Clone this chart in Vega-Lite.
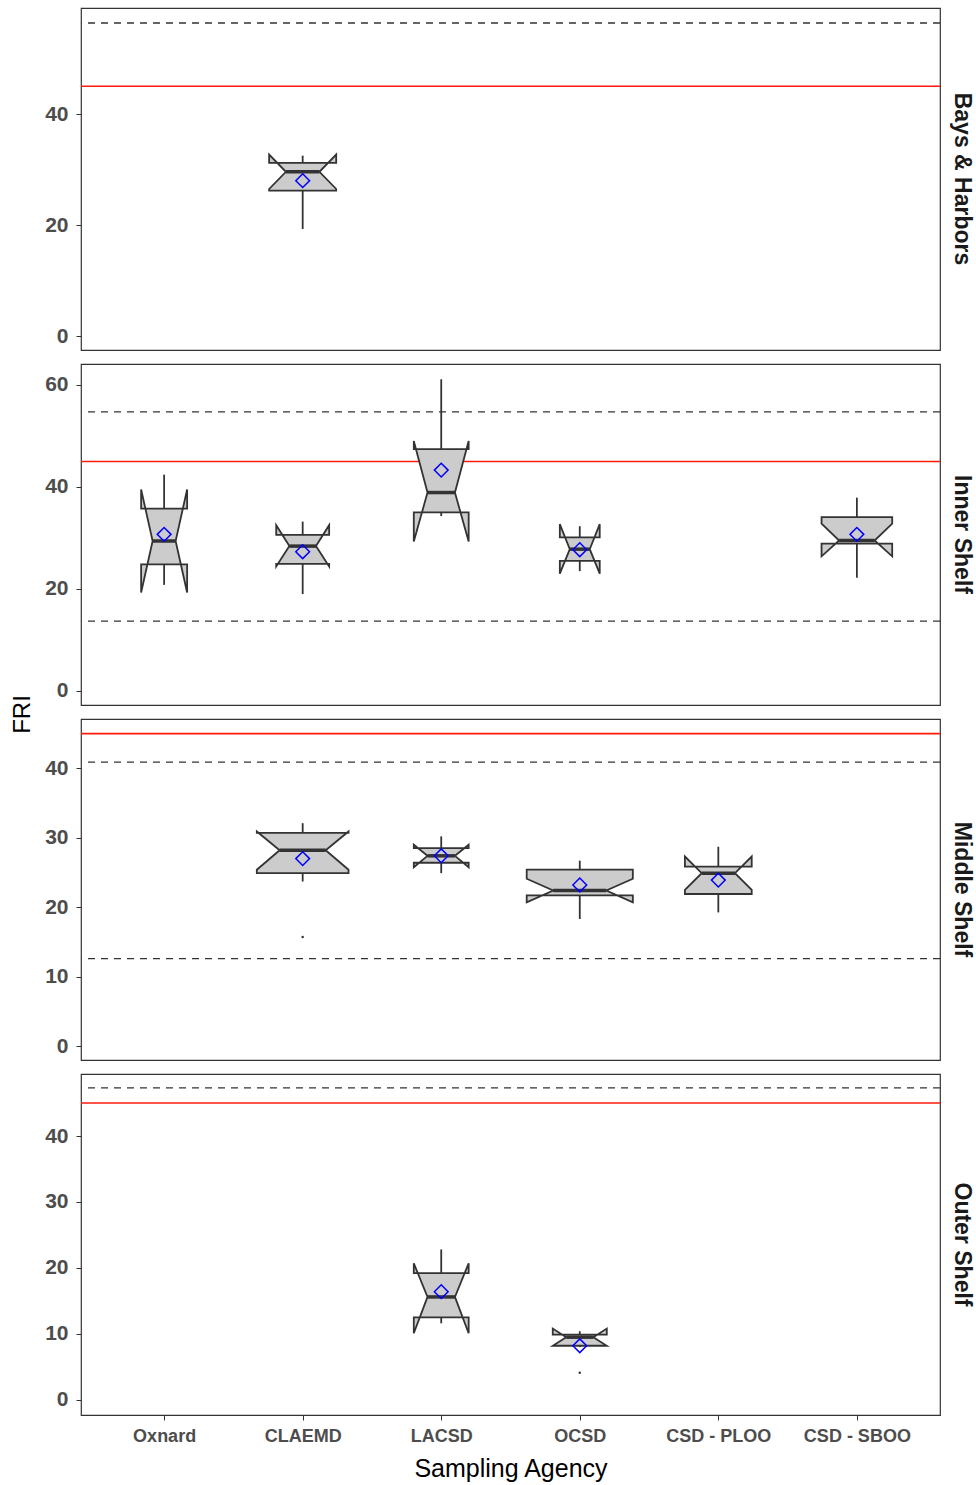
{
  "$schema": "https://vega.github.io/schema/vega-lite/v6.json",
  "padding": {"left": 10, "top": 7, "right": 2, "bottom": 2},
  "spacing": 14,
  "bounds": "flush",
  "resolve": {"scale": {"y": "independent"}},
  "config": {
    "font": "Liberation Sans",
    "view": {"stroke": "#333333", "strokeWidth": 1.2},
    "axis": {"grid": false, "domain": false, "tickColor": "#333333", "tickSize": 5, "labelColor": "#4d4d4d", "labelFontWeight": "bold"},
    "axisY": {"labelFontSize": 21, "labelPadding": 8},
    "axisX": {"labelFontSize": 18, "labelPadding": 7, "titleFontSize": 25, "titleFontWeight": "normal", "titleColor": "#000000", "titlePadding": 11},
    "title": {"orient": "right", "anchor": "middle", "fontSize": 23, "fontWeight": "bold", "color": "#1a1a1a", "offset": 9}
  },
  "datasets": {
    "refs": [
      {"shelf": "Bays & Harbors", "kind": "threshold", "fri": 45},
      {"shelf": "Bays & Harbors", "kind": "bound", "fri": 56.4},
      {"shelf": "Inner Shelf", "kind": "threshold", "fri": 45},
      {"shelf": "Inner Shelf", "kind": "bound", "fri": 54.7},
      {"shelf": "Inner Shelf", "kind": "bound", "fri": 13.7},
      {"shelf": "Middle Shelf", "kind": "threshold", "fri": 45},
      {"shelf": "Middle Shelf", "kind": "bound", "fri": 40.9},
      {"shelf": "Middle Shelf", "kind": "bound", "fri": 12.6},
      {"shelf": "Outer Shelf", "kind": "threshold", "fri": 45},
      {"shelf": "Outer Shelf", "kind": "bound", "fri": 47.3}
    ],
    "boxes": [
      {"shelf": "Bays & Harbors", "agency": "CLAEMD", "lower": 19.3, "q1": 26.2, "q3": 31.2, "upper": 32.5, "mean": 28.0},
      {"shelf": "Inner Shelf", "agency": "Oxnard", "lower": 20.8, "q1": 24.8, "q3": 35.75, "upper": 42.4, "mean": 30.7},
      {"shelf": "Inner Shelf", "agency": "CLAEMD", "lower": 19.0, "q1": 24.9, "q3": 30.6, "upper": 33.2, "mean": 27.3},
      {"shelf": "Inner Shelf", "agency": "LACSD", "lower": 34.3, "q1": 35.0, "q3": 47.4, "upper": 61.1, "mean": 43.3},
      {"shelf": "Inner Shelf", "agency": "OCSD", "lower": 23.5, "q1": 25.5, "q3": 30.1, "upper": 32.3, "mean": 27.7},
      {"shelf": "Inner Shelf", "agency": "CSD - SBOO", "lower": 22.2, "q1": 28.9, "q3": 34.1, "upper": 37.9, "mean": 30.7},
      {"shelf": "Middle Shelf", "agency": "CLAEMD", "lower": 23.7, "q1": 24.9, "q3": 30.7, "upper": 32.1, "mean": 27.0},
      {"shelf": "Middle Shelf", "agency": "LACSD", "lower": 24.9, "q1": 26.4, "q3": 28.5, "upper": 30.2, "mean": 27.4},
      {"shelf": "Middle Shelf", "agency": "OCSD", "lower": 18.3, "q1": 21.7, "q3": 25.4, "upper": 26.7, "mean": 23.2},
      {"shelf": "Middle Shelf", "agency": "CSD - PLOO", "lower": 19.25, "q1": 21.9, "q3": 25.85, "upper": 28.7, "mean": 23.9},
      {"shelf": "Outer Shelf", "agency": "LACSD", "lower": 11.6, "q1": 12.5, "q3": 19.2, "upper": 22.8, "mean": 16.4},
      {"shelf": "Outer Shelf", "agency": "OCSD", "lower": 8.0, "q1": 8.2, "q3": 9.9, "upper": 10.4, "mean": 8.2}
    ],
    "outliers": [
      {"shelf": "Middle Shelf", "agency": "CLAEMD", "fri": 15.7},
      {"shelf": "Outer Shelf", "agency": "OCSD", "fri": 4.1}
    ],
    "verts": [
      {"shelf": "Bays & Harbors", "agency": "CLAEMD", "vertex": 1, "dx": -0.242, "fri": 31.2},
      {"shelf": "Bays & Harbors", "agency": "CLAEMD", "vertex": 2, "dx": -0.242, "fri": 32.7},
      {"shelf": "Bays & Harbors", "agency": "CLAEMD", "vertex": 3, "dx": -0.121, "fri": 29.6},
      {"shelf": "Bays & Harbors", "agency": "CLAEMD", "vertex": 4, "dx": -0.242, "fri": 26.5},
      {"shelf": "Bays & Harbors", "agency": "CLAEMD", "vertex": 5, "dx": -0.242, "fri": 26.2},
      {"shelf": "Bays & Harbors", "agency": "CLAEMD", "vertex": 6, "dx": 0.242, "fri": 26.2},
      {"shelf": "Bays & Harbors", "agency": "CLAEMD", "vertex": 7, "dx": 0.242, "fri": 26.5},
      {"shelf": "Bays & Harbors", "agency": "CLAEMD", "vertex": 8, "dx": 0.121, "fri": 29.6},
      {"shelf": "Bays & Harbors", "agency": "CLAEMD", "vertex": 9, "dx": 0.242, "fri": 32.7},
      {"shelf": "Bays & Harbors", "agency": "CLAEMD", "vertex": 10, "dx": 0.242, "fri": 31.2},

      {"shelf": "Inner Shelf", "agency": "Oxnard", "vertex": 1, "dx": -0.166, "fri": 35.75},
      {"shelf": "Inner Shelf", "agency": "Oxnard", "vertex": 2, "dx": -0.166, "fri": 39.5},
      {"shelf": "Inner Shelf", "agency": "Oxnard", "vertex": 3, "dx": -0.083, "fri": 29.4},
      {"shelf": "Inner Shelf", "agency": "Oxnard", "vertex": 4, "dx": -0.166, "fri": 19.3},
      {"shelf": "Inner Shelf", "agency": "Oxnard", "vertex": 5, "dx": -0.166, "fri": 24.8},
      {"shelf": "Inner Shelf", "agency": "Oxnard", "vertex": 6, "dx": 0.166, "fri": 24.8},
      {"shelf": "Inner Shelf", "agency": "Oxnard", "vertex": 7, "dx": 0.166, "fri": 19.3},
      {"shelf": "Inner Shelf", "agency": "Oxnard", "vertex": 8, "dx": 0.083, "fri": 29.4},
      {"shelf": "Inner Shelf", "agency": "Oxnard", "vertex": 9, "dx": 0.166, "fri": 39.5},
      {"shelf": "Inner Shelf", "agency": "Oxnard", "vertex": 10, "dx": 0.166, "fri": 35.75},

      {"shelf": "Inner Shelf", "agency": "CLAEMD", "vertex": 1, "dx": -0.191, "fri": 30.6},
      {"shelf": "Inner Shelf", "agency": "CLAEMD", "vertex": 2, "dx": -0.191, "fri": 32.5},
      {"shelf": "Inner Shelf", "agency": "CLAEMD", "vertex": 3, "dx": -0.096, "fri": 28.4},
      {"shelf": "Inner Shelf", "agency": "CLAEMD", "vertex": 4, "dx": -0.191, "fri": 24.4},
      {"shelf": "Inner Shelf", "agency": "CLAEMD", "vertex": 5, "dx": -0.191, "fri": 24.9},
      {"shelf": "Inner Shelf", "agency": "CLAEMD", "vertex": 6, "dx": 0.191, "fri": 24.9},
      {"shelf": "Inner Shelf", "agency": "CLAEMD", "vertex": 7, "dx": 0.191, "fri": 24.4},
      {"shelf": "Inner Shelf", "agency": "CLAEMD", "vertex": 8, "dx": 0.096, "fri": 28.4},
      {"shelf": "Inner Shelf", "agency": "CLAEMD", "vertex": 9, "dx": 0.191, "fri": 32.5},
      {"shelf": "Inner Shelf", "agency": "CLAEMD", "vertex": 10, "dx": 0.191, "fri": 30.6},

      {"shelf": "Inner Shelf", "agency": "LACSD", "vertex": 1, "dx": -0.198, "fri": 47.4},
      {"shelf": "Inner Shelf", "agency": "LACSD", "vertex": 2, "dx": -0.198, "fri": 49.0},
      {"shelf": "Inner Shelf", "agency": "LACSD", "vertex": 3, "dx": -0.099, "fri": 38.9},
      {"shelf": "Inner Shelf", "agency": "LACSD", "vertex": 4, "dx": -0.198, "fri": 29.3},
      {"shelf": "Inner Shelf", "agency": "LACSD", "vertex": 5, "dx": -0.198, "fri": 35.0},
      {"shelf": "Inner Shelf", "agency": "LACSD", "vertex": 6, "dx": 0.198, "fri": 35.0},
      {"shelf": "Inner Shelf", "agency": "LACSD", "vertex": 7, "dx": 0.198, "fri": 29.3},
      {"shelf": "Inner Shelf", "agency": "LACSD", "vertex": 8, "dx": 0.099, "fri": 38.9},
      {"shelf": "Inner Shelf", "agency": "LACSD", "vertex": 9, "dx": 0.198, "fri": 49.0},
      {"shelf": "Inner Shelf", "agency": "LACSD", "vertex": 10, "dx": 0.198, "fri": 47.4},

      {"shelf": "Inner Shelf", "agency": "OCSD", "vertex": 1, "dx": -0.144, "fri": 30.1},
      {"shelf": "Inner Shelf", "agency": "OCSD", "vertex": 2, "dx": -0.144, "fri": 32.7},
      {"shelf": "Inner Shelf", "agency": "OCSD", "vertex": 3, "dx": -0.072, "fri": 27.8},
      {"shelf": "Inner Shelf", "agency": "OCSD", "vertex": 4, "dx": -0.144, "fri": 23.0},
      {"shelf": "Inner Shelf", "agency": "OCSD", "vertex": 5, "dx": -0.144, "fri": 25.5},
      {"shelf": "Inner Shelf", "agency": "OCSD", "vertex": 6, "dx": 0.144, "fri": 25.5},
      {"shelf": "Inner Shelf", "agency": "OCSD", "vertex": 7, "dx": 0.144, "fri": 23.0},
      {"shelf": "Inner Shelf", "agency": "OCSD", "vertex": 8, "dx": 0.072, "fri": 27.8},
      {"shelf": "Inner Shelf", "agency": "OCSD", "vertex": 9, "dx": 0.144, "fri": 32.7},
      {"shelf": "Inner Shelf", "agency": "OCSD", "vertex": 10, "dx": 0.144, "fri": 30.1},

      {"shelf": "Inner Shelf", "agency": "CSD - SBOO", "vertex": 1, "dx": -0.255, "fri": 34.1},
      {"shelf": "Inner Shelf", "agency": "CSD - SBOO", "vertex": 2, "dx": -0.255, "fri": 32.8},
      {"shelf": "Inner Shelf", "agency": "CSD - SBOO", "vertex": 3, "dx": -0.128, "fri": 29.5},
      {"shelf": "Inner Shelf", "agency": "CSD - SBOO", "vertex": 4, "dx": -0.255, "fri": 26.4},
      {"shelf": "Inner Shelf", "agency": "CSD - SBOO", "vertex": 5, "dx": -0.255, "fri": 28.9},
      {"shelf": "Inner Shelf", "agency": "CSD - SBOO", "vertex": 6, "dx": 0.255, "fri": 28.9},
      {"shelf": "Inner Shelf", "agency": "CSD - SBOO", "vertex": 7, "dx": 0.255, "fri": 26.4},
      {"shelf": "Inner Shelf", "agency": "CSD - SBOO", "vertex": 8, "dx": 0.128, "fri": 29.5},
      {"shelf": "Inner Shelf", "agency": "CSD - SBOO", "vertex": 9, "dx": 0.255, "fri": 32.8},
      {"shelf": "Inner Shelf", "agency": "CSD - SBOO", "vertex": 10, "dx": 0.255, "fri": 34.1},

      {"shelf": "Middle Shelf", "agency": "CLAEMD", "vertex": 1, "dx": -0.331, "fri": 30.7},
      {"shelf": "Middle Shelf", "agency": "CLAEMD", "vertex": 2, "dx": -0.331, "fri": 30.9},
      {"shelf": "Middle Shelf", "agency": "CLAEMD", "vertex": 3, "dx": -0.166, "fri": 28.2},
      {"shelf": "Middle Shelf", "agency": "CLAEMD", "vertex": 4, "dx": -0.331, "fri": 25.4},
      {"shelf": "Middle Shelf", "agency": "CLAEMD", "vertex": 5, "dx": -0.331, "fri": 24.9},
      {"shelf": "Middle Shelf", "agency": "CLAEMD", "vertex": 6, "dx": 0.331, "fri": 24.9},
      {"shelf": "Middle Shelf", "agency": "CLAEMD", "vertex": 7, "dx": 0.331, "fri": 25.4},
      {"shelf": "Middle Shelf", "agency": "CLAEMD", "vertex": 8, "dx": 0.166, "fri": 28.2},
      {"shelf": "Middle Shelf", "agency": "CLAEMD", "vertex": 9, "dx": 0.331, "fri": 30.9},
      {"shelf": "Middle Shelf", "agency": "CLAEMD", "vertex": 10, "dx": 0.331, "fri": 30.7},

      {"shelf": "Middle Shelf", "agency": "LACSD", "vertex": 1, "dx": -0.198, "fri": 28.5},
      {"shelf": "Middle Shelf", "agency": "LACSD", "vertex": 2, "dx": -0.198, "fri": 29.0},
      {"shelf": "Middle Shelf", "agency": "LACSD", "vertex": 3, "dx": -0.099, "fri": 27.4},
      {"shelf": "Middle Shelf", "agency": "LACSD", "vertex": 4, "dx": -0.198, "fri": 25.75},
      {"shelf": "Middle Shelf", "agency": "LACSD", "vertex": 5, "dx": -0.198, "fri": 26.4},
      {"shelf": "Middle Shelf", "agency": "LACSD", "vertex": 6, "dx": 0.198, "fri": 26.4},
      {"shelf": "Middle Shelf", "agency": "LACSD", "vertex": 7, "dx": 0.198, "fri": 25.75},
      {"shelf": "Middle Shelf", "agency": "LACSD", "vertex": 8, "dx": 0.099, "fri": 27.4},
      {"shelf": "Middle Shelf", "agency": "LACSD", "vertex": 9, "dx": 0.198, "fri": 29.0},
      {"shelf": "Middle Shelf", "agency": "LACSD", "vertex": 10, "dx": 0.198, "fri": 28.5},

      {"shelf": "Middle Shelf", "agency": "OCSD", "vertex": 1, "dx": -0.383, "fri": 25.4},
      {"shelf": "Middle Shelf", "agency": "OCSD", "vertex": 2, "dx": -0.383, "fri": 24.1},
      {"shelf": "Middle Shelf", "agency": "OCSD", "vertex": 3, "dx": -0.192, "fri": 22.4},
      {"shelf": "Middle Shelf", "agency": "OCSD", "vertex": 4, "dx": -0.383, "fri": 20.7},
      {"shelf": "Middle Shelf", "agency": "OCSD", "vertex": 5, "dx": -0.383, "fri": 21.7},
      {"shelf": "Middle Shelf", "agency": "OCSD", "vertex": 6, "dx": 0.383, "fri": 21.7},
      {"shelf": "Middle Shelf", "agency": "OCSD", "vertex": 7, "dx": 0.383, "fri": 20.7},
      {"shelf": "Middle Shelf", "agency": "OCSD", "vertex": 8, "dx": 0.192, "fri": 22.4},
      {"shelf": "Middle Shelf", "agency": "OCSD", "vertex": 9, "dx": 0.383, "fri": 24.1},
      {"shelf": "Middle Shelf", "agency": "OCSD", "vertex": 10, "dx": 0.383, "fri": 25.4},

      {"shelf": "Middle Shelf", "agency": "CSD - PLOO", "vertex": 1, "dx": -0.241, "fri": 25.85},
      {"shelf": "Middle Shelf", "agency": "CSD - PLOO", "vertex": 2, "dx": -0.241, "fri": 27.3},
      {"shelf": "Middle Shelf", "agency": "CSD - PLOO", "vertex": 3, "dx": -0.12, "fri": 24.9},
      {"shelf": "Middle Shelf", "agency": "CSD - PLOO", "vertex": 4, "dx": -0.241, "fri": 22.5},
      {"shelf": "Middle Shelf", "agency": "CSD - PLOO", "vertex": 5, "dx": -0.241, "fri": 21.9},
      {"shelf": "Middle Shelf", "agency": "CSD - PLOO", "vertex": 6, "dx": 0.241, "fri": 21.9},
      {"shelf": "Middle Shelf", "agency": "CSD - PLOO", "vertex": 7, "dx": 0.241, "fri": 22.5},
      {"shelf": "Middle Shelf", "agency": "CSD - PLOO", "vertex": 8, "dx": 0.12, "fri": 24.9},
      {"shelf": "Middle Shelf", "agency": "CSD - PLOO", "vertex": 9, "dx": 0.241, "fri": 27.3},
      {"shelf": "Middle Shelf", "agency": "CSD - PLOO", "vertex": 10, "dx": 0.241, "fri": 25.85},

      {"shelf": "Outer Shelf", "agency": "LACSD", "vertex": 1, "dx": -0.198, "fri": 19.2},
      {"shelf": "Outer Shelf", "agency": "LACSD", "vertex": 2, "dx": -0.198, "fri": 20.7},
      {"shelf": "Outer Shelf", "agency": "LACSD", "vertex": 3, "dx": -0.099, "fri": 15.6},
      {"shelf": "Outer Shelf", "agency": "LACSD", "vertex": 4, "dx": -0.198, "fri": 10.1},
      {"shelf": "Outer Shelf", "agency": "LACSD", "vertex": 5, "dx": -0.198, "fri": 12.5},
      {"shelf": "Outer Shelf", "agency": "LACSD", "vertex": 6, "dx": 0.198, "fri": 12.5},
      {"shelf": "Outer Shelf", "agency": "LACSD", "vertex": 7, "dx": 0.198, "fri": 10.1},
      {"shelf": "Outer Shelf", "agency": "LACSD", "vertex": 8, "dx": 0.099, "fri": 15.6},
      {"shelf": "Outer Shelf", "agency": "LACSD", "vertex": 9, "dx": 0.198, "fri": 20.7},
      {"shelf": "Outer Shelf", "agency": "LACSD", "vertex": 10, "dx": 0.198, "fri": 19.2},

      {"shelf": "Outer Shelf", "agency": "OCSD", "vertex": 1, "dx": -0.195, "fri": 9.9},
      {"shelf": "Outer Shelf", "agency": "OCSD", "vertex": 2, "dx": -0.195, "fri": 10.8},
      {"shelf": "Outer Shelf", "agency": "OCSD", "vertex": 3, "dx": -0.098, "fri": 9.5},
      {"shelf": "Outer Shelf", "agency": "OCSD", "vertex": 4, "dx": -0.195, "fri": 8.2},
      {"shelf": "Outer Shelf", "agency": "OCSD", "vertex": 5, "dx": -0.195, "fri": 8.2},
      {"shelf": "Outer Shelf", "agency": "OCSD", "vertex": 6, "dx": 0.195, "fri": 8.2},
      {"shelf": "Outer Shelf", "agency": "OCSD", "vertex": 7, "dx": 0.195, "fri": 8.2},
      {"shelf": "Outer Shelf", "agency": "OCSD", "vertex": 8, "dx": 0.098, "fri": 9.5},
      {"shelf": "Outer Shelf", "agency": "OCSD", "vertex": 9, "dx": 0.195, "fri": 10.8},
      {"shelf": "Outer Shelf", "agency": "OCSD", "vertex": 10, "dx": 0.195, "fri": 9.9}
    ]
  },
  "vconcat": [
    {
      "width": 859, "height": 342,
      "title": {"text": "Bays & Harbors"},
      "layer": [
        {"data": {"name": "refs"}, "transform": [{"filter": "datum.shelf === 'Bays & Harbors' && datum.kind === 'bound'"}],
         "mark": {"type": "rule", "stroke": "#333333", "strokeWidth": 1.3, "strokeDash": [7, 6]},
         "encoding": {"y": {"field": "fri", "type": "quantitative", "scale": {"domain": [-2.5, 59.1], "nice": false, "zero": false}, "axis": {"values": [0, 20, 40], "title": null}}}},
        {"data": {"name": "refs"}, "transform": [{"filter": "datum.shelf === 'Bays & Harbors' && datum.kind === 'threshold'"}],
         "mark": {"type": "rule", "stroke": "#ff1a0a", "strokeWidth": 1.6},
         "encoding": {"y": {"field": "fri", "type": "quantitative"}}},
        {"data": {"name": "boxes"}, "transform": [{"filter": "datum.shelf === 'Bays & Harbors'"}],
         "mark": {"type": "rule", "stroke": "#333333", "strokeWidth": 1.8},
         "encoding": {"x": {"field": "agency", "type": "nominal", "scale": {"type": "point", "domain": ["Oxnard", "CLAEMD", "LACSD", "OCSD", "CSD - PLOO", "CSD - SBOO"], "padding": 0.6}, "axis": null},
                      "y": {"field": "lower", "type": "quantitative"}, "y2": {"field": "q1"}}},
        {"data": {"name": "boxes"}, "transform": [{"filter": "datum.shelf === 'Bays & Harbors'"}],
         "mark": {"type": "rule", "stroke": "#333333", "strokeWidth": 1.8},
         "encoding": {"x": {"field": "agency", "type": "nominal", "axis": null},
                      "y": {"field": "q3", "type": "quantitative"}, "y2": {"field": "upper"}}},
        {"data": {"name": "verts"}, "transform": [{"filter": "datum.shelf === 'Bays & Harbors'"}],
         "mark": {"type": "line", "interpolate": "linear-closed", "fill": "#cccccc", "stroke": "#333333", "strokeWidth": 1.8},
         "encoding": {"x": {"field": "agency", "type": "nominal", "axis": null},
                      "xOffset": {"field": "dx", "type": "quantitative", "scale": {"domain": [-0.5, 0.5], "range": [-69.27, 69.27]}},
                      "y": {"field": "fri", "type": "quantitative"},
                      "detail": {"field": "agency"},
                      "order": {"field": "vertex", "type": "quantitative"}}},
        {"data": {"name": "verts"}, "transform": [{"filter": "datum.shelf === 'Bays & Harbors' && (datum.vertex === 3 || datum.vertex === 8)"}],
         "mark": {"type": "line", "stroke": "#333333", "strokeWidth": 3.5},
         "encoding": {"x": {"field": "agency", "type": "nominal", "axis": null},
                      "xOffset": {"field": "dx", "type": "quantitative", "scale": {"domain": [-0.5, 0.5], "range": [-69.27, 69.27]}},
                      "y": {"field": "fri", "type": "quantitative"},
                      "detail": {"field": "agency"},
                      "order": {"field": "vertex", "type": "quantitative"}}},
        {"data": {"name": "boxes"}, "transform": [{"filter": "datum.shelf === 'Bays & Harbors'"}],
         "mark": {"type": "point", "shape": "diamond", "filled": false, "color": "#0000ff", "size": 190, "strokeWidth": 1.5, "opacity": 1},
         "encoding": {"x": {"field": "agency", "type": "nominal", "axis": null}, "y": {"field": "mean", "type": "quantitative"}}}
      ]
    },
    {
      "width": 859, "height": 341,
      "title": {"text": "Inner Shelf"},
      "layer": [
        {"data": {"name": "refs"}, "transform": [{"filter": "datum.shelf === 'Inner Shelf' && datum.kind === 'bound'"}],
         "mark": {"type": "rule", "stroke": "#333333", "strokeWidth": 1.3, "strokeDash": [7, 6]},
         "encoding": {"y": {"field": "fri", "type": "quantitative", "scale": {"domain": [-2.75, 64.1], "nice": false, "zero": false}, "axis": {"values": [0, 20, 40, 60], "title": "FRI", "titleY": 350, "titleFontSize": 24, "titleFontWeight": "normal", "titleColor": "#000000", "titlePadding": 10}}}},
        {"data": {"name": "refs"}, "transform": [{"filter": "datum.shelf === 'Inner Shelf' && datum.kind === 'threshold'"}],
         "mark": {"type": "rule", "stroke": "#ff1a0a", "strokeWidth": 1.6},
         "encoding": {"y": {"field": "fri", "type": "quantitative"}}},
        {"data": {"name": "boxes"}, "transform": [{"filter": "datum.shelf === 'Inner Shelf'"}],
         "mark": {"type": "rule", "stroke": "#333333", "strokeWidth": 1.8},
         "encoding": {"x": {"field": "agency", "type": "nominal", "scale": {"type": "point", "domain": ["Oxnard", "CLAEMD", "LACSD", "OCSD", "CSD - PLOO", "CSD - SBOO"], "padding": 0.6}, "axis": null},
                      "y": {"field": "lower", "type": "quantitative"}, "y2": {"field": "q1"}}},
        {"data": {"name": "boxes"}, "transform": [{"filter": "datum.shelf === 'Inner Shelf'"}],
         "mark": {"type": "rule", "stroke": "#333333", "strokeWidth": 1.8},
         "encoding": {"x": {"field": "agency", "type": "nominal", "axis": null},
                      "y": {"field": "q3", "type": "quantitative"}, "y2": {"field": "upper"}}},
        {"data": {"name": "verts"}, "transform": [{"filter": "datum.shelf === 'Inner Shelf'"}],
         "mark": {"type": "line", "interpolate": "linear-closed", "fill": "#cccccc", "stroke": "#333333", "strokeWidth": 1.8},
         "encoding": {"x": {"field": "agency", "type": "nominal", "axis": null},
                      "xOffset": {"field": "dx", "type": "quantitative", "scale": {"domain": [-0.5, 0.5], "range": [-69.27, 69.27]}},
                      "y": {"field": "fri", "type": "quantitative"},
                      "detail": {"field": "agency"},
                      "order": {"field": "vertex", "type": "quantitative"}}},
        {"data": {"name": "verts"}, "transform": [{"filter": "datum.shelf === 'Inner Shelf' && (datum.vertex === 3 || datum.vertex === 8)"}],
         "mark": {"type": "line", "stroke": "#333333", "strokeWidth": 3.5},
         "encoding": {"x": {"field": "agency", "type": "nominal", "axis": null},
                      "xOffset": {"field": "dx", "type": "quantitative", "scale": {"domain": [-0.5, 0.5], "range": [-69.27, 69.27]}},
                      "y": {"field": "fri", "type": "quantitative"},
                      "detail": {"field": "agency"},
                      "order": {"field": "vertex", "type": "quantitative"}}},
        {"data": {"name": "boxes"}, "transform": [{"filter": "datum.shelf === 'Inner Shelf'"}],
         "mark": {"type": "point", "shape": "diamond", "filled": false, "color": "#0000ff", "size": 190, "strokeWidth": 1.5, "opacity": 1},
         "encoding": {"x": {"field": "agency", "type": "nominal", "axis": null}, "y": {"field": "mean", "type": "quantitative"}}}
      ]
    },
    {
      "width": 859, "height": 341,
      "title": {"text": "Middle Shelf"},
      "layer": [
        {"data": {"name": "refs"}, "transform": [{"filter": "datum.shelf === 'Middle Shelf' && datum.kind === 'bound'"}],
         "mark": {"type": "rule", "stroke": "#333333", "strokeWidth": 1.3, "strokeDash": [7, 6]},
         "encoding": {"y": {"field": "fri", "type": "quantitative", "scale": {"domain": [-2.0, 47.1], "nice": false, "zero": false}, "axis": {"values": [0, 10, 20, 30, 40], "title": null}}}},
        {"data": {"name": "refs"}, "transform": [{"filter": "datum.shelf === 'Middle Shelf' && datum.kind === 'threshold'"}],
         "mark": {"type": "rule", "stroke": "#ff1a0a", "strokeWidth": 1.6},
         "encoding": {"y": {"field": "fri", "type": "quantitative"}}},
        {"data": {"name": "boxes"}, "transform": [{"filter": "datum.shelf === 'Middle Shelf'"}],
         "mark": {"type": "rule", "stroke": "#333333", "strokeWidth": 1.8},
         "encoding": {"x": {"field": "agency", "type": "nominal", "scale": {"type": "point", "domain": ["Oxnard", "CLAEMD", "LACSD", "OCSD", "CSD - PLOO", "CSD - SBOO"], "padding": 0.6}, "axis": null},
                      "y": {"field": "lower", "type": "quantitative"}, "y2": {"field": "q1"}}},
        {"data": {"name": "boxes"}, "transform": [{"filter": "datum.shelf === 'Middle Shelf'"}],
         "mark": {"type": "rule", "stroke": "#333333", "strokeWidth": 1.8},
         "encoding": {"x": {"field": "agency", "type": "nominal", "axis": null},
                      "y": {"field": "q3", "type": "quantitative"}, "y2": {"field": "upper"}}},
        {"data": {"name": "verts"}, "transform": [{"filter": "datum.shelf === 'Middle Shelf'"}],
         "mark": {"type": "line", "interpolate": "linear-closed", "fill": "#cccccc", "stroke": "#333333", "strokeWidth": 1.8},
         "encoding": {"x": {"field": "agency", "type": "nominal", "axis": null},
                      "xOffset": {"field": "dx", "type": "quantitative", "scale": {"domain": [-0.5, 0.5], "range": [-69.27, 69.27]}},
                      "y": {"field": "fri", "type": "quantitative"},
                      "detail": {"field": "agency"},
                      "order": {"field": "vertex", "type": "quantitative"}}},
        {"data": {"name": "verts"}, "transform": [{"filter": "datum.shelf === 'Middle Shelf' && (datum.vertex === 3 || datum.vertex === 8)"}],
         "mark": {"type": "line", "stroke": "#333333", "strokeWidth": 3.5},
         "encoding": {"x": {"field": "agency", "type": "nominal", "axis": null},
                      "xOffset": {"field": "dx", "type": "quantitative", "scale": {"domain": [-0.5, 0.5], "range": [-69.27, 69.27]}},
                      "y": {"field": "fri", "type": "quantitative"},
                      "detail": {"field": "agency"},
                      "order": {"field": "vertex", "type": "quantitative"}}},
        {"data": {"name": "boxes"}, "transform": [{"filter": "datum.shelf === 'Middle Shelf'"}],
         "mark": {"type": "point", "shape": "diamond", "filled": false, "color": "#0000ff", "size": 190, "strokeWidth": 1.5, "opacity": 1},
         "encoding": {"x": {"field": "agency", "type": "nominal", "axis": null}, "y": {"field": "mean", "type": "quantitative"}}},
        {"data": {"name": "outliers"}, "transform": [{"filter": "datum.shelf === 'Middle Shelf'"}],
         "mark": {"type": "point", "filled": true, "shape": "circle", "color": "#333333", "size": 6, "opacity": 1},
         "encoding": {"x": {"field": "agency", "type": "nominal", "axis": null}, "y": {"field": "fri", "type": "quantitative"}}}
      ]
    },
    {
      "width": 859, "height": 341,
      "title": {"text": "Outer Shelf"},
      "layer": [
        {"data": {"name": "refs"}, "transform": [{"filter": "datum.shelf === 'Outer Shelf' && datum.kind === 'bound'"}],
         "mark": {"type": "rule", "stroke": "#333333", "strokeWidth": 1.3, "strokeDash": [7, 6]},
         "encoding": {"y": {"field": "fri", "type": "quantitative", "scale": {"domain": [-2.3, 49.4], "nice": false, "zero": false}, "axis": {"values": [0, 10, 20, 30, 40], "title": null}}}},
        {"data": {"name": "refs"}, "transform": [{"filter": "datum.shelf === 'Outer Shelf' && datum.kind === 'threshold'"}],
         "mark": {"type": "rule", "stroke": "#ff1a0a", "strokeWidth": 1.6},
         "encoding": {"y": {"field": "fri", "type": "quantitative"}}},
        {"data": {"name": "boxes"}, "transform": [{"filter": "datum.shelf === 'Outer Shelf'"}],
         "mark": {"type": "rule", "stroke": "#333333", "strokeWidth": 1.8},
         "encoding": {"x": {"field": "agency", "type": "nominal", "scale": {"type": "point", "domain": ["Oxnard", "CLAEMD", "LACSD", "OCSD", "CSD - PLOO", "CSD - SBOO"], "padding": 0.6}, "axis": {"title": "Sampling Agency", "labelAngle": 0}},
                      "y": {"field": "lower", "type": "quantitative"}, "y2": {"field": "q1"}}},
        {"data": {"name": "boxes"}, "transform": [{"filter": "datum.shelf === 'Outer Shelf'"}],
         "mark": {"type": "rule", "stroke": "#333333", "strokeWidth": 1.8},
         "encoding": {"x": {"field": "agency", "type": "nominal"},
                      "y": {"field": "q3", "type": "quantitative"}, "y2": {"field": "upper"}}},
        {"data": {"name": "verts"}, "transform": [{"filter": "datum.shelf === 'Outer Shelf'"}],
         "mark": {"type": "line", "interpolate": "linear-closed", "fill": "#cccccc", "stroke": "#333333", "strokeWidth": 1.8},
         "encoding": {"x": {"field": "agency", "type": "nominal"},
                      "xOffset": {"field": "dx", "type": "quantitative", "scale": {"domain": [-0.5, 0.5], "range": [-69.27, 69.27]}},
                      "y": {"field": "fri", "type": "quantitative"},
                      "detail": {"field": "agency"},
                      "order": {"field": "vertex", "type": "quantitative"}}},
        {"data": {"name": "verts"}, "transform": [{"filter": "datum.shelf === 'Outer Shelf' && (datum.vertex === 3 || datum.vertex === 8)"}],
         "mark": {"type": "line", "stroke": "#333333", "strokeWidth": 3.5},
         "encoding": {"x": {"field": "agency", "type": "nominal"},
                      "xOffset": {"field": "dx", "type": "quantitative", "scale": {"domain": [-0.5, 0.5], "range": [-69.27, 69.27]}},
                      "y": {"field": "fri", "type": "quantitative"},
                      "detail": {"field": "agency"},
                      "order": {"field": "vertex", "type": "quantitative"}}},
        {"data": {"name": "boxes"}, "transform": [{"filter": "datum.shelf === 'Outer Shelf'"}],
         "mark": {"type": "point", "shape": "diamond", "filled": false, "color": "#0000ff", "size": 190, "strokeWidth": 1.5, "opacity": 1},
         "encoding": {"x": {"field": "agency", "type": "nominal"}, "y": {"field": "mean", "type": "quantitative"}}},
        {"data": {"name": "outliers"}, "transform": [{"filter": "datum.shelf === 'Outer Shelf'"}],
         "mark": {"type": "point", "filled": true, "shape": "circle", "color": "#333333", "size": 6, "opacity": 1},
         "encoding": {"x": {"field": "agency", "type": "nominal"}, "y": {"field": "fri", "type": "quantitative"}}}
      ]
    }
  ]
}
